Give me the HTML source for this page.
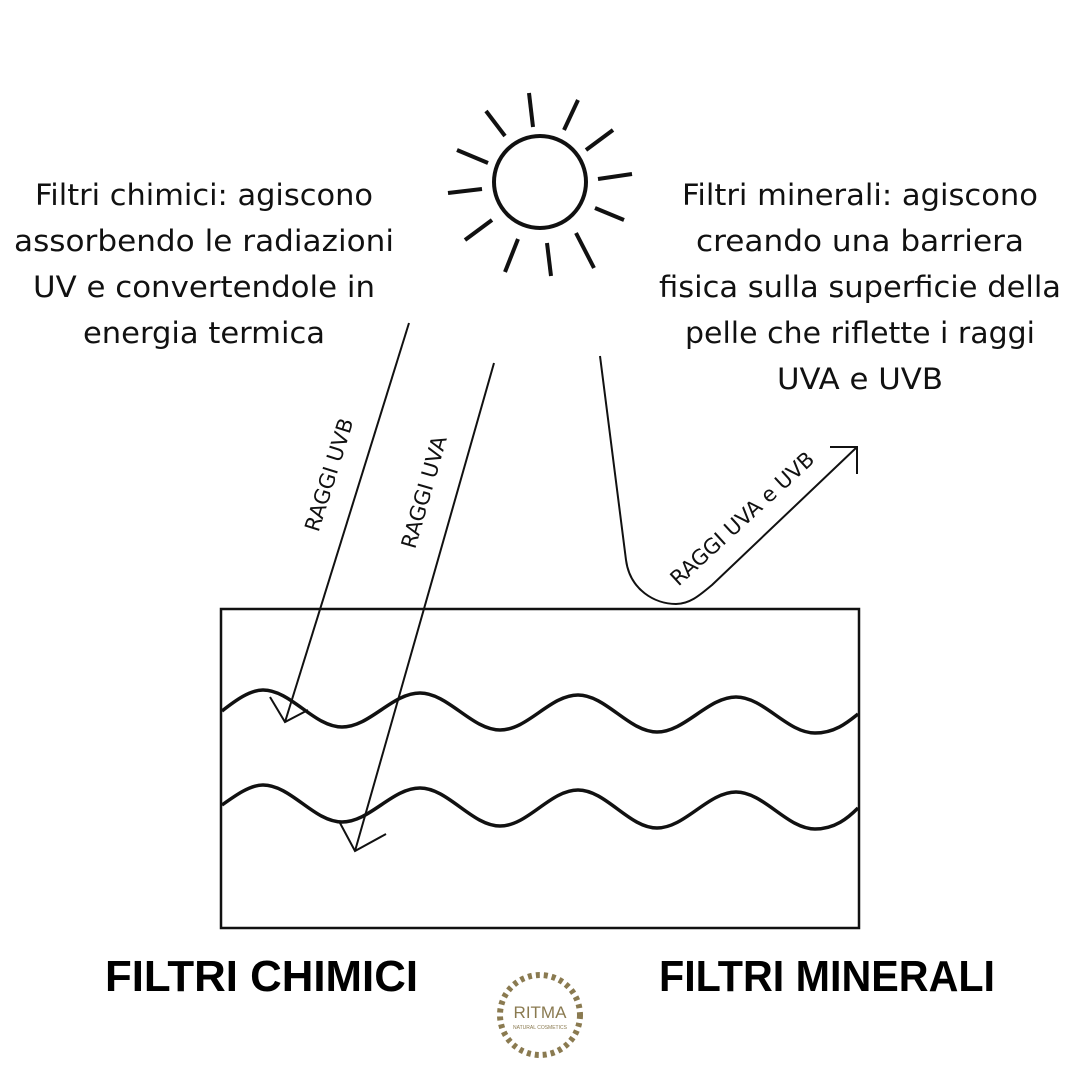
<!DOCTYPE html>
<html><head><meta charset="utf-8"><style>
html,body{margin:0;padding:0;background:#fff}
svg{display:block}
</style></head><body>
<svg width="1080" height="1080" viewBox="0 0 1080 1080" xmlns="http://www.w3.org/2000/svg" font-family="'DejaVu Sans','Liberation Sans',sans-serif">
<rect width="1080" height="1080" fill="#fff"/>
<circle cx="540" cy="182" r="46" fill="none" stroke="#111" stroke-width="4"/>
<g stroke="#111" stroke-width="4" stroke-linecap="butt">
<line x1="529" y1="93" x2="533" y2="127"/>
<line x1="578" y1="100" x2="564" y2="130"/>
<line x1="613" y1="130" x2="586" y2="150"/>
<line x1="632" y1="174" x2="598" y2="179"/>
<line x1="624" y1="220" x2="595" y2="208"/>
<line x1="594" y1="268" x2="576" y2="233"/>
<line x1="551" y1="276" x2="547" y2="243"/>
<line x1="505" y1="272" x2="518" y2="239"/>
<line x1="465" y1="240" x2="492" y2="220"/>
<line x1="448" y1="193" x2="482" y2="189"/>
<line x1="457" y1="150" x2="488" y2="163"/>
<line x1="486" y1="111" x2="505" y2="136"/>
</g>
<g font-size="29" fill="#111" text-anchor="middle">
<text x="204" y="205" textLength="338" lengthAdjust="spacingAndGlyphs">Filtri chimici: agiscono</text>
<text x="204" y="251" textLength="380" lengthAdjust="spacingAndGlyphs">assorbendo le radiazioni</text>
<text x="204" y="297" textLength="342" lengthAdjust="spacingAndGlyphs">UV e convertendole in</text>
<text x="204" y="343" textLength="242" lengthAdjust="spacingAndGlyphs">energia termica</text>
<text x="860" y="205" textLength="356" lengthAdjust="spacingAndGlyphs">Filtri minerali: agiscono</text>
<text x="860" y="251" textLength="328" lengthAdjust="spacingAndGlyphs">creando una barriera</text>
<text x="860" y="297" textLength="402" lengthAdjust="spacingAndGlyphs">fisica sulla superficie della</text>
<text x="860" y="343" textLength="350" lengthAdjust="spacingAndGlyphs">pelle che riflette i raggi</text>
<text x="860" y="389" textLength="166" lengthAdjust="spacingAndGlyphs">UVA e UVB</text>
</g>
<rect x="221" y="609" width="638" height="319" fill="none" stroke="#111" stroke-width="2.5"/>
<path d="M222 711 C236 700 250 690 263 690 C291 690 314 727 342 727 C370 727 392 693 420 693 C448 693 472 730 500 730 C528 730 550 695 578 695 C606 695 629 732 657 732 C685 732 708 697 736 697 C764 697 787 733 815 733 C835 733 848 722 858 714" fill="none" stroke="#111" stroke-width="3.5"/>
<path d="M222 805 C236 795 250 785 263 785 C291 785 314 822 342 822 C370 822 392 788 420 788 C448 788 472 826 500 826 C528 826 550 790 578 790 C606 790 629 828 657 828 C685 828 708 792 736 792 C764 792 787 829 815 829 C835 829 848 818 858 808" fill="none" stroke="#111" stroke-width="3.5"/>
<g fill="none" stroke="#111" stroke-width="2">
<line x1="409" y1="323" x2="285" y2="722"/>
<polyline points="270,697 285,722 308,710"/>
<line x1="494" y1="363" x2="355" y2="851"/>
<polyline points="340,823 355,851 386,834"/>
<path d="M600 356 L626 560 C630 590 655 604 676 604 C690 604 700 595 712 585 L857 447"/>
<polyline points="830,447 857,447 857,474"/>
</g>
<g font-size="21" fill="#111" text-anchor="middle">
<text transform="translate(336,477) rotate(-72.5)">RAGGI UVB</text>
<text transform="translate(431,494) rotate(-74)">RAGGI UVA</text>
<text transform="translate(747,524) rotate(-42.5)">RAGGI UVA e UVB</text>
</g>
<g font-size="44" font-weight="bold" fill="#000" font-family="'Liberation Sans',sans-serif">
<text x="105" y="991" textLength="313" lengthAdjust="spacingAndGlyphs">FILTRI CHIMICI</text>
<text x="659" y="991" textLength="336" lengthAdjust="spacingAndGlyphs">FILTRI MINERALI</text>
</g>
<circle cx="540" cy="1015" r="40" fill="none" stroke="#8a7a50" stroke-width="6" stroke-dasharray="4 4"/>
<text x="540" y="1018" text-anchor="middle" font-size="17" fill="#8a7a50" font-family="'Liberation Sans',sans-serif">RITMA</text>
<text x="540" y="1029" text-anchor="middle" font-size="5" fill="#8a7a50" font-family="'Liberation Sans',sans-serif">NATURAL COSMETICS</text>
</svg>
</body></html>
